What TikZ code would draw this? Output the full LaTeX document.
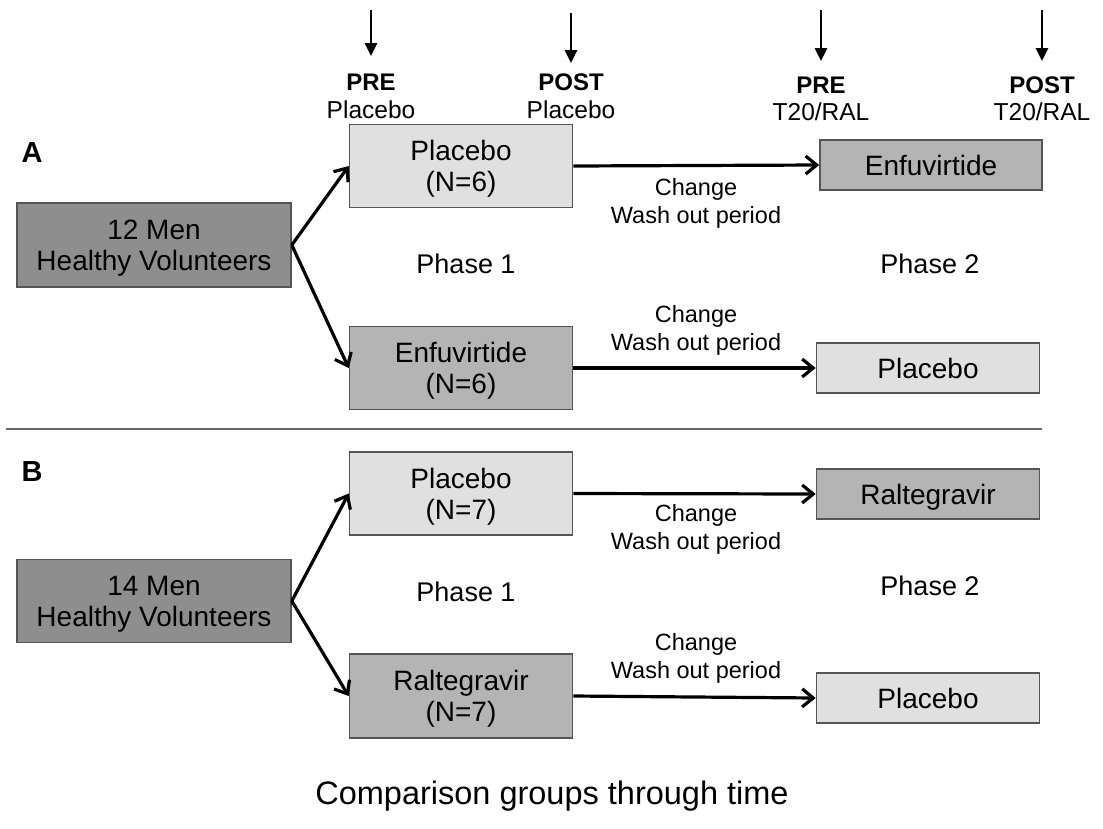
\documentclass[tikz,border=0pt]{standalone}
\usepackage{fontspec}
\setmainfont{Liberation Sans}
\usetikzlibrary{arrows.meta}
\definecolor{lightbox}{HTML}{E0E0E0}
\definecolor{midbox}{HTML}{B4B4B4}
\definecolor{darkbox}{HTML}{8E8E8E}
\definecolor{boxline}{HTML}{555555}
\tikzset{
  box/.style={draw=boxline, line width=1.6pt, inner sep=0pt, align=center,
    text depth=0pt, font=\fontsize{28}{31}\selectfont},
  lightb/.style={box, fill=lightbox},
  midb/.style={box, fill=midbox},
  darkb/.style={box, fill=darkbox},
  flow/.style={line width=3.2pt, -{Straight Barb[length=11pt,width=18pt]}},
  timearrow/.style={line width=2.8pt, -{Triangle[length=13pt,width=12pt]}},
  toplbl/.style={font=\fontsize{24}{24}\selectfont\bfseries, inner sep=0pt},
  subl/.style={font=\fontsize{24.5}{24.5}\selectfont, inner sep=0pt},
  washl/.style={font=\fontsize{23.5}{27.5}\selectfont, align=center, inner sep=0pt, text depth=0pt},
  phasel/.style={font=\fontsize{27}{27}\selectfont, inner sep=0pt},
  panel/.style={font=\fontsize{29}{29}\selectfont\bfseries, inner sep=0pt},
}
\begin{document}
\begin{tikzpicture}[x=1pt,y=-1pt]
\useasboundingbox[fill=white] (0,0) rectangle (1103,828);

% time arrows
\coordinate (tas) at (371,10);   \coordinate (tae) at (371,56);
\coordinate (tbs) at (571,13);   \coordinate (tbe) at (571,63);
\coordinate (tcs) at (821,10);   \coordinate (tce) at (821,61);
\coordinate (tds) at (1042,10);  \coordinate (tde) at (1042,61);
\draw[timearrow] (tas) -- (tae);
\draw[timearrow] (tbs) -- (tbe);
\draw[timearrow] (tcs) -- (tce);
\draw[timearrow] (tds) -- (tde);

\node[toplbl] (pre1) at (371,82) {PRE};
\node[subl] (pre1s) at (371,110) {Placebo};
\node[toplbl] (post1) at (571,82) {POST};
\node[subl] (post1s) at (571,110) {Placebo};
\node[toplbl] (pre2) at (821,85) {PRE};
\node[subl] (pre2s) at (821,112) {T20/RAL};
\node[toplbl] (post2) at (1042,85) {POST};
\node[subl] (post2s) at (1042,112) {T20/RAL};

% panel A
\node[panel] (A) at (32,153) {A};
\node[darkb, minimum width=274pt, minimum height=84pt] (menA) at (154,245) {12 Men\\Healthy Volunteers};
\node[lightb, minimum width=223pt, minimum height=83pt] (pA) at (461,166) {Placebo\\(N=6)};
\node[midb, minimum width=223pt, minimum height=83pt] (eA) at (461,368) {Enfuvirtide\\(N=6)};
\node[midb, minimum width=222pt, minimum height=50pt] (eA2) at (931,165) {Enfuvirtide};
\node[lightb, minimum width=223pt, minimum height=50pt] (pA2) at (928,368) {Placebo};
\draw[flow] (menA.east) -- (pA.west);
\draw[flow] (menA.east) -- (eA.west);
\draw[flow] (pA.east) -- (eA2.west);
\draw[flow] (eA.east) -- (pA2.west);
\node[washl] (wA1) at (696,201) {Change\\Wash out period};
\node[washl] (wA2) at (696,328) {Change\\Wash out period};
\node[phasel] (ph1A) at (466,264) {Phase 1};
\node[phasel] (ph2A) at (930,264) {Phase 2};

% separator
\coordinate (sepL) at (6,429);
\coordinate (sepR) at (1042,429);
\draw[line width=1.5pt, draw=black!60] (sepL) -- (sepR);

% panel B
\node[panel] (B) at (32,472) {B};
\node[darkb, minimum width=274pt, minimum height=83pt] (menB) at (154,601) {14 Men\\Healthy Volunteers};
\node[lightb, minimum width=223pt, minimum height=83pt] (pB) at (461,493.5) {Placebo\\(N=7)};
\node[midb, minimum width=223pt, minimum height=84pt] (rB) at (461,696) {Raltegravir\\(N=7)};
\node[midb, minimum width=223pt, minimum height=50pt] (rB2) at (928,494) {Raltegravir};
\node[lightb, minimum width=223pt, minimum height=50pt] (pB2) at (928,698) {Placebo};
\draw[flow] (menB.east) -- (pB.west);
\draw[flow] (menB.east) -- (rB.west);
\draw[flow] (pB.east) -- (rB2.west);
\draw[flow] (rB.east) -- (pB2.west);
\node[washl] (wB1) at (696,527) {Change\\Wash out period};
\node[washl] (wB2) at (696,656) {Change\\Wash out period};
\node[phasel] (ph1B) at (466,592) {Phase 1};
\node[phasel] (ph2B) at (930,586) {Phase 2};

% caption
\node[font=\fontsize{32.5}{32.5}\selectfont, inner sep=0pt] (cap) at (552,796) {Comparison groups through time};
\end{tikzpicture}
\end{document}
